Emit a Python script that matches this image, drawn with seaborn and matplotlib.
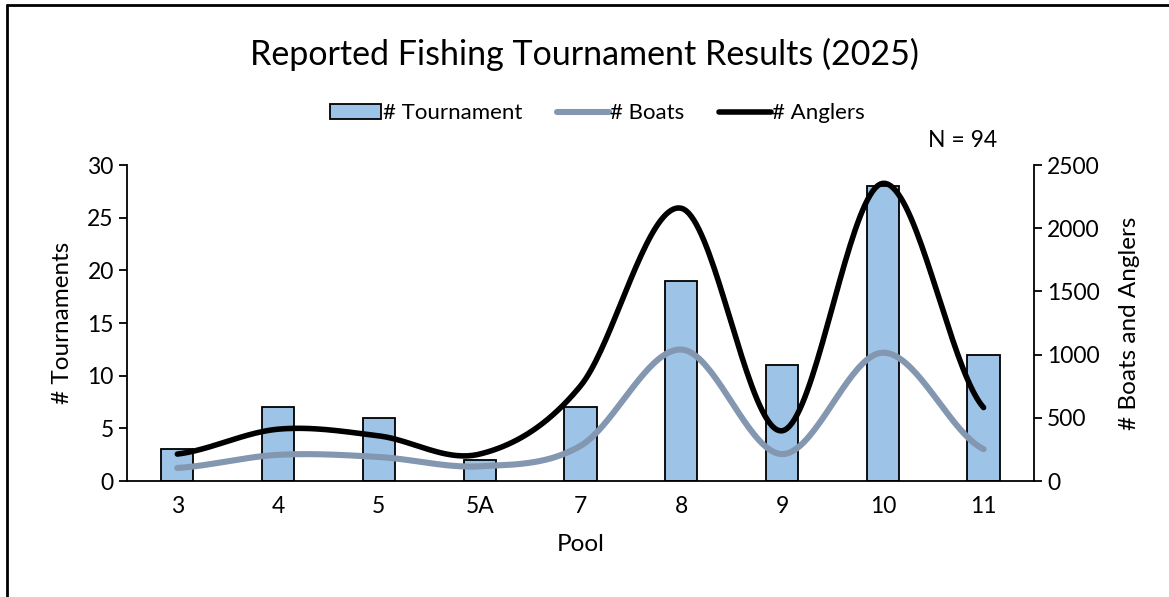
import numpy as np
import pandas as pd
import matplotlib
matplotlib.use("Agg")
import matplotlib.pyplot as plt
import seaborn as sns
from matplotlib.patches import Patch
from matplotlib.lines import Line2D

# Datos
pools = ['3', '4', '5', '5A', '7', '8', '9', '10', '11']
torneos = [3, 7, 6, 2, 7, 19, 11, 28, 12]
botes = [103, 207, 190, 116, 278, 1040, 213, 1015, 252]
pescadores = [213, 410, 357, 213, 752, 2158, 397, 2355, 581]

df = pd.DataFrame({'Pool': pools, 'Tournaments': torneos})


def suavizar(y, n=40):
    # curva suave tipo Excel (Catmull-Rom) que pasa por los puntos
    y = np.asarray(y, dtype=float)
    m = len(y)
    tang = np.zeros(m)
    tang[1:-1] = (y[2:] - y[:-2]) / 2
    tang[0] = (y[1] - y[0]) / 2
    tang[-1] = (y[-1] - y[-2]) / 2
    xs, ys = [], []
    for i in range(m - 1):
        t = np.linspace(0, 1, n, endpoint=(i == m - 2))
        h00 = 2 * t**3 - 3 * t**2 + 1
        h10 = t**3 - 2 * t**2 + t
        h01 = -2 * t**3 + 3 * t**2
        h11 = t**3 - t**2
        ys.append(h00 * y[i] + h10 * tang[i] + h01 * y[i + 1] + h11 * tang[i + 1])
        xs.append(i + t)
    return np.concatenate(xs), np.concatenate(ys)


sns.set_style("white")
plt.rcParams['font.family'] = ['Lato', 'DejaVu Sans']
plt.rcParams['text.color'] = 'black'
plt.rcParams['axes.labelcolor'] = 'black'
plt.rcParams['xtick.color'] = 'black'
plt.rcParams['ytick.color'] = 'black'

fig = plt.figure(figsize=(11.69, 5.97), dpi=100)
ax = fig.add_axes([0.1086, 0.1943, 0.7759, 0.5293])

sns.barplot(data=df, x='Pool', y='Tournaments', color='#9DC3E6', saturation=1,
            width=0.32, edgecolor='black', linewidth=1.3, ax=ax)

ax.set_xlim(-0.5, len(pools) - 0.5)
ax.set_ylim(0, 30)
ax.set_yticks(range(0, 31, 5))
ax.set_xticks(np.arange(-0.5, len(pools), 1.0))
ax.set_xticklabels([])
ax.set_xticks(range(len(pools)), minor=True)
ax.set_xticklabels(pools, minor=True)
ax.tick_params(axis='x', which='major', direction='out', length=7, width=1.3, color='black')
ax.tick_params(axis='x', which='minor', length=0, labelsize=16.5, pad=11)
ax.tick_params(axis='y', direction='out', length=6, width=1.3, color='black', labelsize=16.5, left=True)
ax.set_xlabel('Pool', fontsize=17.5, labelpad=12)
ax.set_ylabel('# Tournaments', fontsize=17.5, labelpad=10)
for s in ['left', 'bottom']:
    ax.spines[s].set_color('black')
    ax.spines[s].set_linewidth(1.3)
ax.spines['top'].set_visible(False)
ax.spines['right'].set_visible(False)

ax2 = ax.twinx()
xb, yb = suavizar(botes)
xa, ya = suavizar(pescadores)
ax2.plot(xb, yb, color='#8497B0', lw=4.4, solid_capstyle='round')
ax2.plot(xa, ya, color='black', lw=4.0, solid_capstyle='round')
ax2.set_ylim(0, 2500)
ax2.set_yticks(range(0, 2501, 500))
ax2.tick_params(axis='y', direction='out', length=6, width=1.3, color='black', labelsize=16.5, right=True)
ax2.set_ylabel('# Boats and Anglers', fontsize=17.5, labelpad=14)
for s in ['top', 'left', 'bottom']:
    ax2.spines[s].set_visible(False)
ax2.spines['right'].set_color('black')
ax2.spines['right'].set_linewidth(1.3)

fig.suptitle('Reported Fishing Tournament Results (2025)', fontsize=24.5, y=0.937)

handles = [Patch(facecolor='#9DC3E6', edgecolor='black', linewidth=1.3),
           Line2D([], [], color='#8497B0', lw=4.4),
           Line2D([], [], color='black', lw=4.0)]
fig.legend(handles, ['# Tournament', '# Boats', '# Anglers'], loc='center',
           bbox_to_anchor=(0.511, 0.81), ncol=3, frameon=False, fontsize=16,
           handlelength=2.3, handletextpad=0.05, columnspacing=1.6)

fig.text(0.853, 0.765, 'N = 94', fontsize=16.5, ha='right', va='center')

# marco del area del grafico
fig.add_artist(Line2D([0.006, 0.006], [0, 0.992], transform=fig.transFigure, color='black', lw=2))
fig.add_artist(Line2D([0.006, 1.0], [0.992, 0.992], transform=fig.transFigure, color='black', lw=2))

fig.savefig('out.png', dpi=100)
